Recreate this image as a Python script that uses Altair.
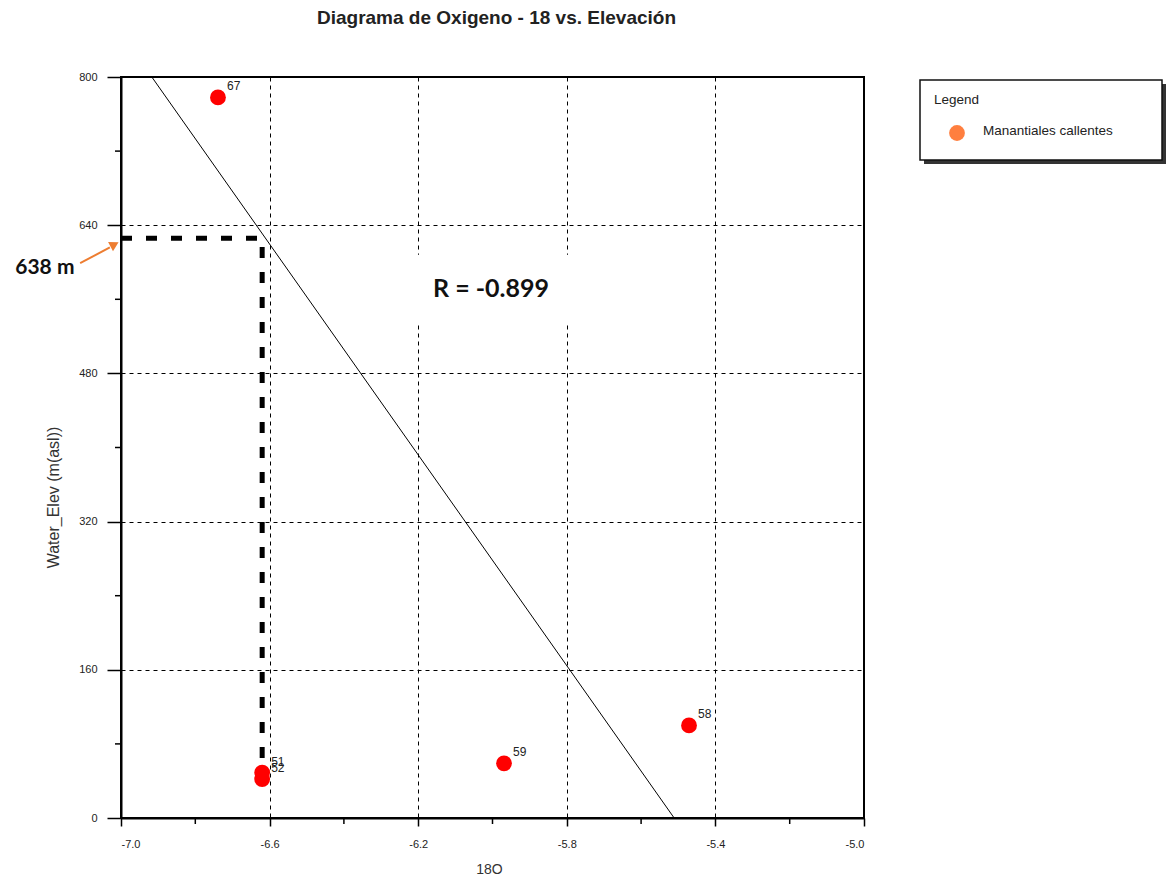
import altair as alt
import pandas as pd

# ---------------- data ----------------
chart_title = "Diagrama de Oxigeno - 18  vs. Elevación"
ids = ["67", "51", "52", "59", "58"]
o18 = [-6.739, -6.620, -6.620, -5.969, -5.471]
elev = [778, 49, 42, 59, 100]

fit_x = [-6.917, -5.511]
fit_y = [800, 0]

guide_x = [-7.0, -6.62, -6.62]
guide_y = [626, 626, 62]

x_major = [-7.0, -6.6, -6.2, -5.8, -5.4, -5.0]
x_minor = [-6.8, -6.4, -6.0, -5.6, -5.2]
y_major = [0, 160, 320, 480, 640, 800]
y_minor = [80, 240, 400, 560, 720]

arrow_x = [-7.110, -7.030]
arrow_y = [599, 616]
arrow_head = (-7.021, 618.5)
label_638 = ("638 m", -7.205, 594)
r_text = ("R = -0.899", -6.004, 571)
r_box_x = [-6.235, -5.751]
r_box_y = [535, 608]

legend_title = "Legend"
legend_label = "Manantiales callentes"

W, H = 743, 741
FONT = "Liberation Sans"

# ---------------- shared encodings ----------------
xs = alt.Scale(domain=[-7.0, -5.0], nice=False, zero=False)
ys = alt.Scale(domain=[0, 800], nice=False, zero=False)

xenc = alt.X(
    "x:Q", scale=xs, title="18O",
    axis=alt.Axis(values=x_major,
                  labelExpr="replace(format(datum.value, '.1f'), '\u2212', '-')",
                  tickSize=8, labelPadding=12,
                  labelFontSize=11, labelFont=FONT,
                  titleFontSize=14, titleFont=FONT, titleFontWeight="normal",
                  titleColor="#333", titleX=368, titleY=51, titleBaseline="middle",
                  titleAnchor="start", titleAlign="center")
)
yenc = alt.Y(
    "y:Q", scale=ys, title="Water_Elev  (m(asl))",
    axis=alt.Axis(values=y_major, format="d", tickSize=14, labelPadding=10,
                  labelFontSize=11, labelFont=FONT,
                  titleFontSize=16, titleFont=FONT, titleFontWeight="normal",
                  titleColor="#333", titleX=-68, titleY=420, titleAngle=-90,
                  titleBaseline="middle", titleAlign="center")
)

pts = pd.DataFrame({"x": o18, "y": elev, "id": ids})
fit = pd.DataFrame({"x": fit_x, "y": fit_y, "o": [0, 1]})
guide = pd.DataFrame({"x": guide_x, "y": guide_y, "o": [0, 1, 2]})
arr = pd.DataFrame({"x": arrow_x, "y": arrow_y, "o": [0, 1]})
head = pd.DataFrame({"x": [arrow_head[0]], "y": [arrow_head[1]]})
t638 = pd.DataFrame({"x": [label_638[1]], "y": [label_638[2]], "t": [label_638[0]]})
tr = pd.DataFrame({"x": [r_text[1]], "y": [r_text[2]], "t": [r_text[0]]})
rbox = pd.DataFrame({"x": [r_box_x[0]], "x2": [r_box_x[1]],
                     "y": [r_box_y[0]], "y2": [r_box_y[1]]})
xmin = pd.DataFrame({"x": x_minor})
ymin = pd.DataFrame({"y": y_minor})
one = pd.DataFrame({"a": [0]})

base_pts = alt.Chart(pts).mark_circle(size=250, color="#ff0000", opacity=1).encode(x=xenc, y=yenc)

white_box = alt.Chart(rbox).mark_rect(color="white").encode(
    x=alt.X("x:Q", scale=xs), x2="x2", y=alt.Y("y:Q", scale=ys), y2="y2")

fit_line = alt.Chart(fit).mark_line(color="#000", strokeWidth=1).encode(
    x=alt.X("x:Q", scale=xs), y=alt.Y("y:Q", scale=ys), order="o:O")

guide_line = alt.Chart(guide).mark_line(color="#000", strokeWidth=5,
                                        strokeDash=[11, 14]).encode(
    x=alt.X("x:Q", scale=xs), y=alt.Y("y:Q", scale=ys), order="o:O")

arrow_line = alt.Chart(arr).mark_line(color="#ed7d31", strokeWidth=2).encode(
    x=alt.X("x:Q", scale=xs), y=alt.Y("y:Q", scale=ys), order="o:O")
arrow_tip = alt.Chart(head).mark_point(shape="triangle", filled=True, size=110,
                                       angle=62, color="#ed7d31", opacity=1).encode(
    x=alt.X("x:Q", scale=xs), y=alt.Y("y:Q", scale=ys))

txt638 = alt.Chart(t638).mark_text(font="Lato", fontWeight="bold", fontSize=21,
                                   color="#111", align="center", baseline="middle").encode(
    x=alt.X("x:Q", scale=xs), y=alt.Y("y:Q", scale=ys), text="t:N")
txtr = alt.Chart(tr).mark_text(font="Lato", fontWeight="bold", fontSize=25,
                               color="#111", align="center", baseline="middle").encode(
    x=alt.X("x:Q", scale=xs), y=alt.Y("y:Q", scale=ys), text="t:N")

pt_labels = alt.Chart(pts).mark_text(font=FONT, fontSize=12, color="#222", align="left",
                                     baseline="middle", dx=9, dy=-11).encode(
    x=alt.X("x:Q", scale=xs), y=alt.Y("y:Q", scale=ys), text="id:N")

x_minor_ticks = alt.Chart(xmin).mark_rule(color="#000", strokeWidth=1.5).encode(
    x=alt.X("x:Q", scale=xs), y=alt.value(H), y2=alt.value(H + 6))
y_minor_ticks = alt.Chart(ymin).mark_rule(color="#000", strokeWidth=1.5).encode(
    y=alt.Y("y:Q", scale=ys), x=alt.value(-6), x2=alt.value(0))

# title (text placed above the plot, centred on it)
title_mark = alt.Chart(one).mark_text(text=chart_title, font=FONT, fontSize=19,
                                      fontWeight="bold", color="#222",
                                      align="center", baseline="middle").encode(
    x=alt.value(W / 2 + 4), y=alt.value(-59))

# legend box (decoration)
lg_shadow = alt.Chart(one).mark_rect(color="#333").encode(
    x=alt.value(803), x2=alt.value(1045), y=alt.value(7), y2=alt.value(87))
lg_box = alt.Chart(one).mark_rect(fill="white", stroke="#111", strokeWidth=1.5).encode(
    x=alt.value(799), x2=alt.value(1041), y=alt.value(3), y2=alt.value(83))
lg_title = alt.Chart(one).mark_text(text=legend_title, font=FONT, fontSize=13.5, color="#222",
                                    align="left", baseline="middle").encode(
    x=alt.value(813), y=alt.value(23))
lg_sym = alt.Chart(one).mark_circle(size=250, color="#ff7f3f", opacity=1).encode(
    x=alt.value(836), y=alt.value(56))
lg_lab = alt.Chart(one).mark_text(text=legend_label, font=FONT, fontSize=13.5, color="#222",
                                  align="left", baseline="middle").encode(
    x=alt.value(862), y=alt.value(54))

chart = alt.layer(
    base_pts.mark_circle(size=0, opacity=0),
    white_box, fit_line, guide_line, arrow_line, arrow_tip,
    txt638, txtr, x_minor_ticks, y_minor_ticks,
    base_pts, pt_labels, title_mark,
    lg_shadow, lg_box, lg_title, lg_sym, lg_lab,
).properties(
    width=W, height=H,
    autosize=alt.AutoSizeParams(type="none"),
    padding={"left": 113, "top": 69, "right": 302, "bottom": 62},
).configure_view(
    stroke="#000", strokeWidth=2
).configure_axis(
    domainColor="#000", domainWidth=2, tickColor="#000", tickWidth=1.5,
    labelColor="#222", grid=True, gridColor="#000", gridDash=[4, 4],
    gridWidth=1, gridOpacity=1
)

chart.save("out.html", embed_options={"renderer": "svg", "actions": False})
